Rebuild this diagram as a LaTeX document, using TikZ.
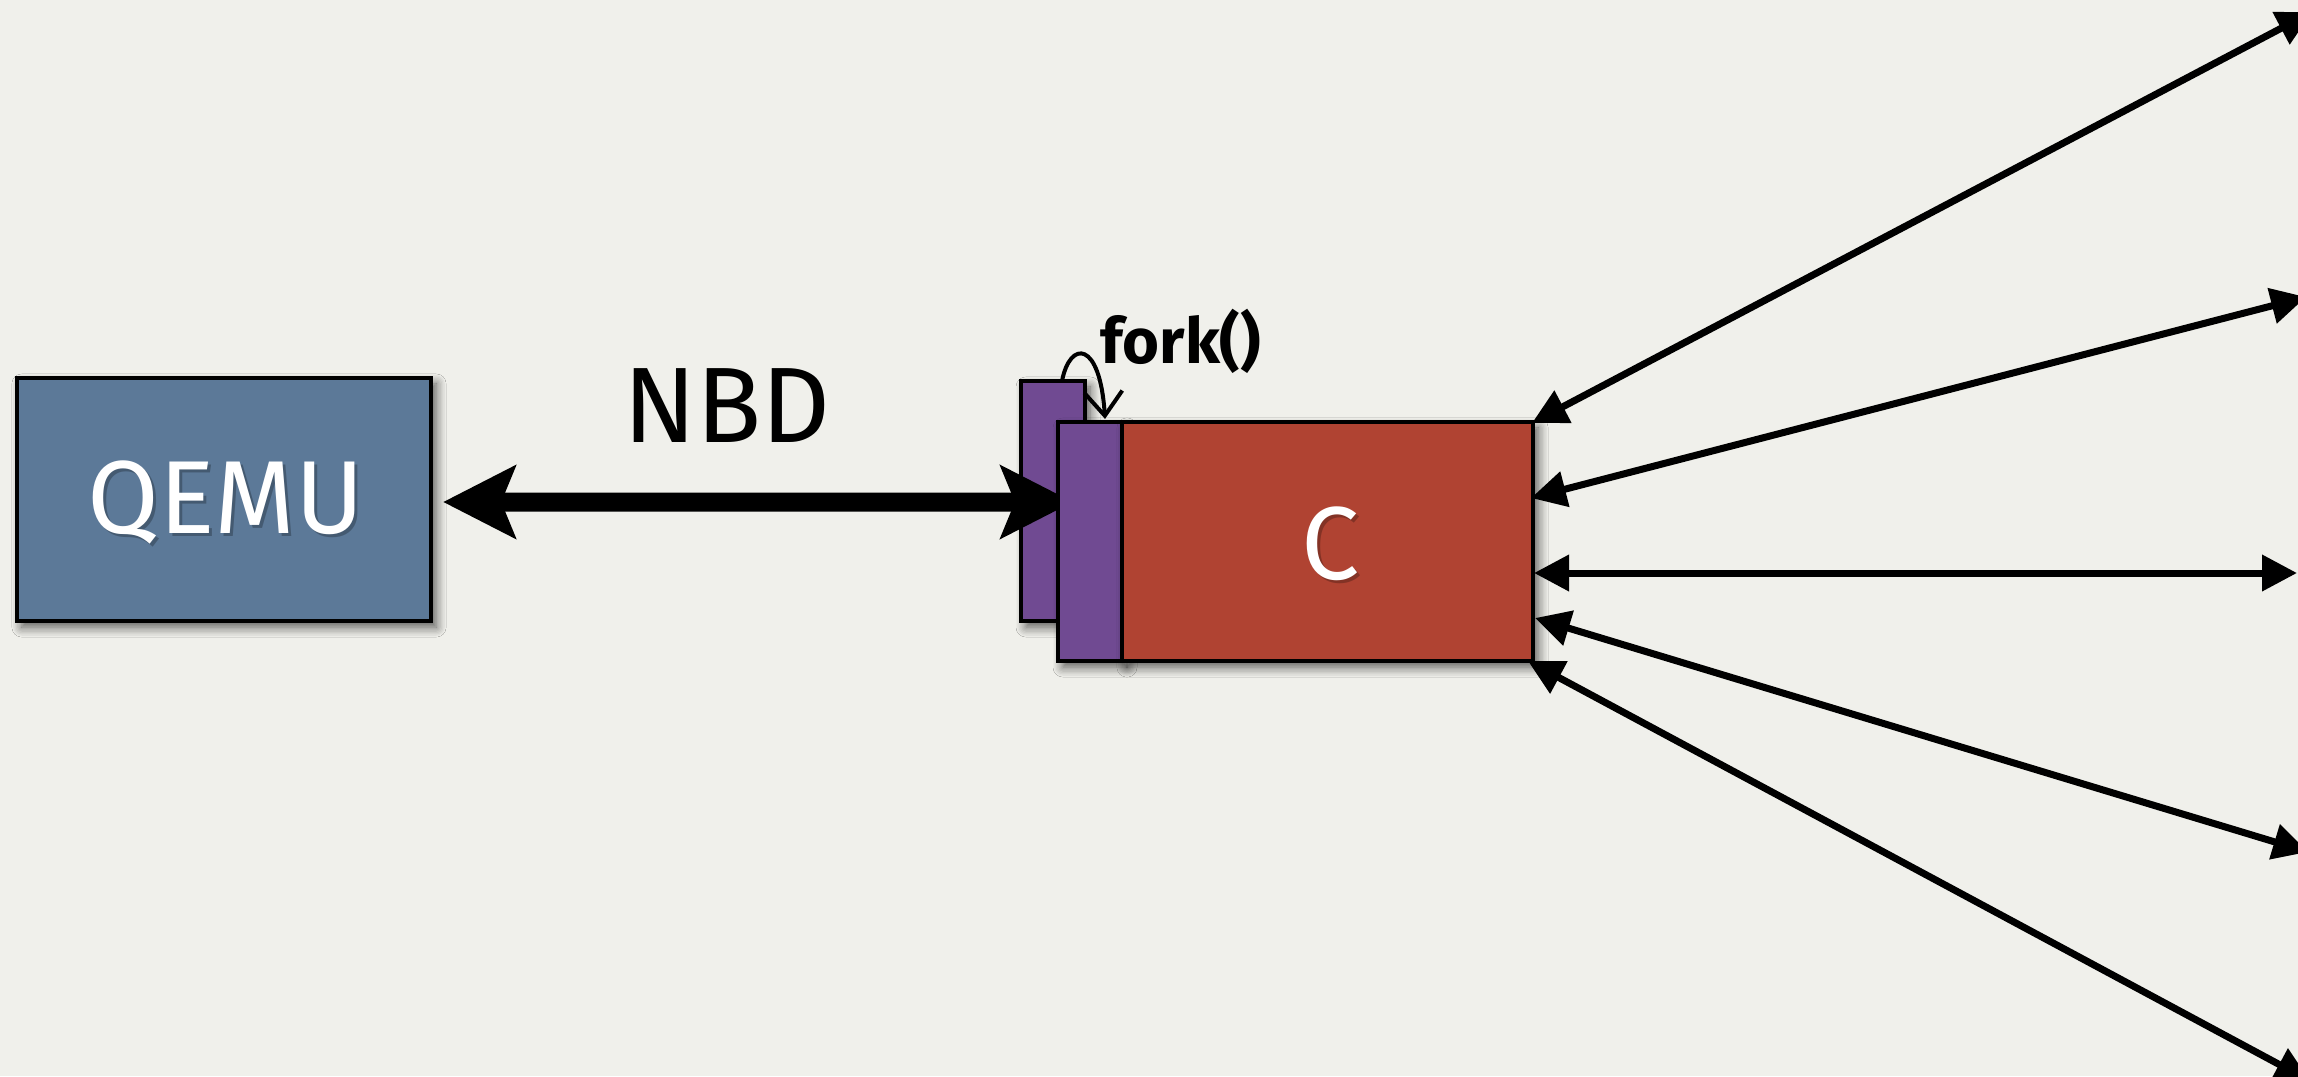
\documentclass[tikz,border=0pt]{standalone}
\usepackage{fontspec}
\setmainfont{Fira Sans}
\usetikzlibrary{arrows.meta,shadows.blur}
\definecolor{bg}{RGB}{240,240,235}
\definecolor{qblue}{RGB}{92,121,152}
\definecolor{cred}{RGB}{176,67,50}
\definecolor{cpurple}{RGB}{112,74,146}
\begin{document}
\begin{tikzpicture}[x=0.01cm,y=-0.01cm,
  box/.style={draw=black, line width=0.035cm, inner sep=0pt, outer sep=0pt,
    blur shadow={shadow xshift=0.05cm, shadow yshift=-0.06cm, shadow blur steps=8, shadow blur radius=0.1cm, shadow opacity=65}},
  lbl/.style={text=white, font=\fontsize{29.5}{31}\selectfont},
  lblshadow/.style={text=black, opacity=0.25, font=\fontsize{29.5}{31}\selectfont},
  nbdarrow/.style={line width=0.19cm, {Stealth[length=0.72cm,width=0.72cm,inset=0.14cm]}-{Stealth[length=0.72cm,width=0.72cm,inset=0.14cm]}},
  rarrow/.style={line width=0.07cm, {Triangle[length=0.35cm,width=0.35cm]}-{Triangle[length=0.35cm,width=0.35cm]}},
  forkarrow/.style={line width=0.04cm, -{Straight Barb[length=0.24cm,width=0.38cm]}}
]
\useasboundingbox (0,0) rectangle (2298,1076);
\fill[bg] (0,0) rectangle (2298,1076);
\clip (0,0) rectangle (2298,1076);

% QEMU box
\node[box, fill=qblue, minimum width=4.14cm, minimum height=2.43cm] (qemu) at (224,499.5) {};
\node[lblshadow] (qemushadow) at (229,505) {QEMU};
\node[lbl] (qemutext) at (226,502) {QEMU};

% back purple box
\node[box, fill=cpurple, minimum width=0.64cm, minimum height=2.40cm] (back) at (1053,501) {};

% NBD connector
\draw[nbdarrow] ([xshift=0.12cm,yshift=-0.025cm]qemu.east) -- ([xshift=-0.12cm]back.east |- 0,502);
\node[font=\fontsize{30.5}{32}\selectfont, anchor=base] (nbd) at (727,442) {NBD};

% front purple and red box
\node[box, fill=cpurple, minimum width=0.64cm, minimum height=2.39cm] (front) at (1090,541.5) {};
\node[box, fill=cred, minimum width=4.11cm, minimum height=2.39cm] (red) at (1327.5,541.5) {};
\node[lblshadow] (cshadow) at (1334,547) {C};
\node[lbl] (ctext) at (1331,544) {C};

% fork()
\node[font=\bfseries\fontsize{18}{20}\selectfont, anchor=base west, inner sep=0pt] (fork) at (1100,363) {fork()};
\draw[forkarrow] ([xshift=0.09cm]back.north) .. controls +(8,-41) and +(-5,-79) .. ([xshift=0.15cm,yshift=0.03cm]front.north);

% right-hand coordinates
\coordinate (l1) at (1532,423);
\coordinate (l2) at (1531,498);
\coordinate (l3) at (1534,573);
\coordinate (l4) at (1535,618);
\coordinate (l5) at (1528,661);
\coordinate (r1) at (2312,12);
\coordinate (r2) at (2306,297);
\coordinate (r3) at (2297,573);
\coordinate (r4) at (2308,852);
\coordinate (r5) at (2310,1081);

\draw[rarrow] (l1) -- (r1);
\draw[rarrow] (l2) -- (r2);
\draw[rarrow] (l3) -- (r3);
\draw[rarrow] (l4) -- (r4);
\draw[rarrow] (l5) -- (r5);
\end{tikzpicture}
\end{document}
